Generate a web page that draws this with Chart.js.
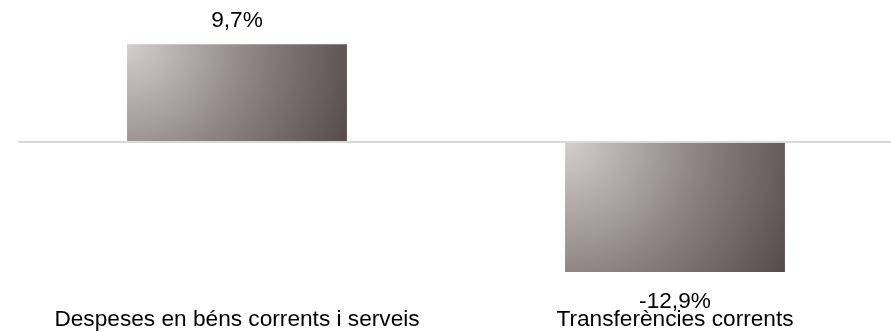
<!DOCTYPE html>
<html>
<head>
<meta charset="utf-8">
<script src="https://cdn.jsdelivr.net/npm/chart.js@4/dist/chart.umd.min.js"></script>
<style>
  html, body { margin: 0; padding: 0; background: #ffffff; overflow: hidden; }
  #wrap { width: 891px; height: 332px; overflow: hidden; }
  canvas { display: block; }
</style>
</head>
<body>
<div id="wrap"><canvas id="c" width="894" height="332"></canvas></div>
<script>
const categories = ['Despeses en béns corrents i serveis', 'Transferències corrents'];
const values = [9.7, -12.9];
const valueLabels = ['9,7%', '-12,9%'];

const FONT = '"Liberation Sans", Arial, sans-serif';
const FONT_SIZE = 22.67;

function barGradient(context) {
  const chart = context.chart;
  const xs = chart.scales.x, ys = chart.scales.y;
  if (!xs || !ys || !chart.chartArea) return '#8f8585';
  const i = context.dataIndex;
  const v = values[i];
  const cx = xs.getPixelForValue(i);
  const half = (xs.width / categories.length) * 0.502 / 2;
  const left = cx - half, right = cx + half;
  const top = ys.getPixelForValue(Math.max(v, 0));
  const bottom = ys.getPixelForValue(Math.min(v, 0));
  const r = Math.hypot(right - left, bottom - top);
  const g = chart.ctx.createRadialGradient(left, top, 0, left, top, r);
  g.addColorStop(0, '#d3cece');
  g.addColorStop(0.5, '#918686');
  g.addColorStop(1, '#554b4c');
  return g;
}

const valueLabelPlugin = {
  id: 'valueLabels',
  afterDatasetsDraw(chart) {
    const meta = chart.getDatasetMeta(0);
    const ctx = chart.ctx;
    ctx.save();
    ctx.font = FONT_SIZE + 'px ' + FONT;
    ctx.fillStyle = '#000000';
    ctx.textAlign = 'center';
    ctx.textBaseline = 'alphabetic';
    meta.data.forEach((bar, i) => {
      const v = values[i];
      if (v >= 0) {
        ctx.fillText(valueLabels[i], bar.x, bar.y - 17);
      } else {
        ctx.fillText(valueLabels[i], bar.x, bar.y + 36);
      }
    });
    ctx.restore();
  }
};

new Chart(document.getElementById('c'), {
  type: 'bar',
  data: {
    labels: categories,
    datasets: [{
      data: values,
      backgroundColor: barGradient,
      borderWidth: 0,
      categoryPercentage: 0.502,
      barPercentage: 1
    }]
  },
  options: {
    responsive: false,
    animation: false,
    events: [],
    layout: { padding: { left: 18, right: 0, top: 1, bottom: 0 } },
    plugins: {
      legend: { display: false },
      tooltip: { enabled: false }
    },
    scales: {
      x: {
        grid: { display: false, drawTicks: false, tickLength: 0 },
        border: { display: false },
        ticks: {
          color: '#000000',
          font: { family: FONT, size: FONT_SIZE },
          padding: 23,
          maxRotation: 0,
          autoSkip: false
        },
        afterFit: (scale) => { scale.height = 49; }
      },
      y: {
        min: -14,
        max: 14,
        ticks: { display: false, stepSize: 2 },
        border: { display: false },
        grid: {
          drawTicks: false,
          lineWidth: 2,
          color: (ctx) => (ctx.tick && ctx.tick.value === 0) ? '#d9d9d9' : 'rgba(0,0,0,0)'
        }
      }
    }
  },
  plugins: [valueLabelPlugin]
});
</script>
</body>
</html>
